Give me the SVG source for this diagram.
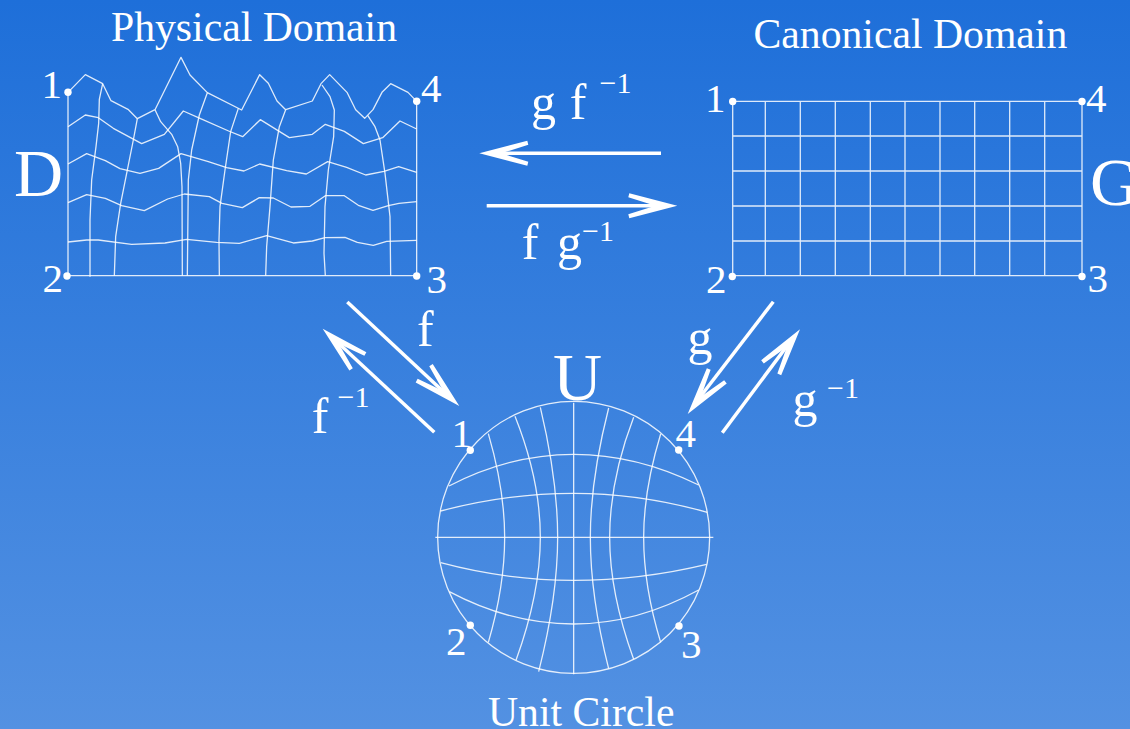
<svg xmlns="http://www.w3.org/2000/svg" width="1130" height="729" viewBox="0 0 1130 729">
<defs>
<linearGradient id="bg" x1="0" y1="0" x2="0" y2="1"><stop offset="0" stop-color="#1e6fd9"/><stop offset="1" stop-color="#5391e2"/></linearGradient>
<polygon id="head" points="0,0 -48,-12.5 -49,-8.5 -22,0 -49,8.5 -48,12.5" fill="#fff"/>
</defs>
<style>
text{font-family:"Liberation Serif","Times New Roman",serif;fill:#fff}
.t{font-size:41.7px}.n{font-size:41px}.b{font-size:68px}.m{font-size:50px}.s{font-size:30px}
.g{fill:none;stroke:#fff;stroke-width:1.3;stroke-opacity:.85;stroke-linejoin:round}
.z{fill:none;stroke:#fff;stroke-width:3.9;stroke-opacity:.85;stroke-linejoin:round}
.a{fill:none;stroke:#fff;stroke-width:3.5}
.d{fill:#fff}
</style>
<rect width="1130" height="729" fill="url(#bg)"/>
<g id="physical-domain">
<g transform="translate(0,40) scale(.33333)">
<path class="z" d="M204,157V707H1250V184"/>
<polyline class="z" points="204,157 256,104 308,131 333,182 384,208 412,236 465,209 543,52 570,105 622,158 725,210 779,104 805,130 831,183 857,209 937,183 963,131 989,104 1041,157 1067,209 1094,235 1119,209 1146,157 1172,131 1224,157 1250,184"/>
<polyline class="z" points="204,260 256,225 295,233 340,265 425,311 493,283 550,213 600,235 686,273 728,290 781,239 868,293 937,283 976,253 1033,274 1090,311 1148,293 1200,243 1250,267"/>
<polyline class="z" points="204,372 260,341 316,362 360,386 420,400 476,385 543,341 625,365 680,383 732,393 779,372 860,392 919,402 983,365 1040,382 1097,405 1152,394 1196,380 1250,397"/>
<polyline class="z" points="204,488 260,464 316,475 365,497 433,512 503,477 553,462 628,470 666,490 727,503 778,473 820,474 873,501 930,499 976,467 1033,467 1075,496 1119,511 1165,497 1197,490 1250,485"/>
<polyline class="z" points="204,606 260,600 295,600 395,613 495,609 560,598 650,607 718,610 800,587 880,609 937,603 975,593 1035,592 1072,607 1120,616 1160,604 1250,601"/>
<polyline class="z" points="308,131 298,178 296,250 288,320 275,420 270,540 270,710"/>
<polyline class="z" points="412,236 400,300 380,400 362,490 347,590 343,707"/>
<polyline class="z" points="465,209 482,245 515,283 533,320 542,370 546,440 547,707"/>
<polyline class="z" points="622,158 598,225 575,330 565,420 562,707"/>
<polyline class="z" points="715,205 692,275 675,390 660,500 657,600 658,707"/>
<polyline class="z" points="857,209 838,260 820,360 810,500 800,620 797,707"/>
<polyline class="z" points="966,135 990,170 1003,210 1001,290 985,390 975,500 972,640 976,707"/>
<polyline class="z" points="1103,226 1125,260 1140,300 1155,400 1170,530 1172,707"/>
</g>
<circle class="d" cx="68" cy="92.3" r="3.7"/><circle class="d" cx="67" cy="276" r="3.7"/><circle class="d" cx="416.7" cy="276" r="3.7"/><circle class="d" cx="416.7" cy="101.3" r="3.7"/>
<text class="t" x="111" y="40.5">Physical Domain</text>
<text class="b" x="14" y="196">D</text>
<text class="n" x="41.6" y="98">1</text><text class="n" x="42.5" y="292">2</text><text class="n" x="426.5" y="293">3</text><text class="n" x="421" y="102">4</text>
</g>
<g id="canonical-domain">
<path class="g" d="M732.7,101.3H1082V275.7H732.7ZM765.3,101.3V275.7M800.3,101.3V275.7M835.3,101.3V275.7M870.3,101.3V275.7M905,101.3V275.7M940,101.3V275.7M974.7,101.3V275.7M1009.7,101.3V275.7M1044.7,101.3V275.7M732.7,136H1082M732.7,171H1082M732.7,206H1082M732.7,241H1082"/>
<circle class="d" cx="732.7" cy="101.5" r="3.7"/><circle class="d" cx="732.3" cy="276.5" r="3.7"/><circle class="d" cx="1082" cy="276.5" r="3.7"/><circle class="d" cx="1082" cy="101.5" r="3.7"/>
<text class="t" x="753.5" y="47.5">Canonical Domain</text>
<text class="b" x="1090" y="205">G</text>
<text class="n" x="705" y="111.7">1</text><text class="n" x="706" y="293.3">2</text><text class="n" x="1087.5" y="291.7">3</text><text class="n" x="1086" y="111.7">4</text>
</g>
<g id="unit-circle">
<g transform="translate(420,390) scale(.33333)">
<circle class="z" cx="461" cy="442" r="408"/>
<path class="z" d="M46,442H880M461,38V853"/>
<path class="z" d="M87,288Q270,193 461,193Q650,193 836,285M62,363Q260,310 461,310Q660,310 862,367M62,518Q260,571 461,571Q660,571 860,523M88,605Q270,702 461,702Q650,702 836,600"/>
<path class="z" d="M205,131Q254,300 254,442Q254,590 205,757M285,79Q361,270 361,442Q361,610 288,811M361,52Q413,270 413,442Q413,620 356,845M566,54Q511,270 511,442Q511,620 566,836M641,82Q569,270 569,442Q569,610 641,808M722,132Q671,300 671,442Q671,590 722,757"/>
</g>
<circle class="d" cx="470.3" cy="450.3" r="3.7"/><circle class="d" cx="470.3" cy="625.3" r="3.7"/><circle class="d" cx="679" cy="626" r="3.7"/><circle class="d" cx="678.7" cy="450" r="3.7"/>
<text class="b" x="553" y="400">U</text>
<text class="t" x="488" y="725.5">Unit Circle</text>
<text class="n" x="451.6" y="446.7">1</text><text class="n" x="446" y="655">2</text><text class="n" x="681" y="657.7">3</text><text class="n" x="675.5" y="446.7">4</text>
</g>
<g id="connectors">
<path class="a" d="M661,153.3H495"/><use href="#head" transform="translate(479.3,153.3) rotate(180)"/>
<path class="a" d="M486.7,205.7H660"/><use href="#head" transform="translate(677.3,205.7)"/>
<path class="a" d="M347.3,302L447,395"/><use href="#head" transform="translate(459.3,406) rotate(43)"/>
<path class="a" d="M434.3,432.3L335,340"/><use href="#head" transform="translate(322.7,328.7) rotate(222.9)"/>
<path class="a" d="M773.3,301.7L697,401"/><use href="#head" transform="translate(687.7,414) rotate(127.3)"/>
<path class="a" d="M722.3,432.7L790,342"/><use href="#head" transform="translate(800,329.3) rotate(-53.1)"/>
</g>
<g id="connector-labels">
<text class="m" x="531" y="118.5">g</text><text class="m" x="569.7" y="118.5">f</text><text class="s" x="599.5" y="92.7">−1</text>
<text class="m" x="521.7" y="258.5">f</text><text class="m" x="557" y="258.5">g</text><text class="s" x="582" y="241">−1</text>
<text class="m" x="417" y="345.7">f</text>
<text class="m" x="311.7" y="432.7">f</text><text class="s" x="337.5" y="406.7">−1</text>
<text class="m" x="687.6" y="354">g</text>
<text class="m" x="792.6" y="416">g</text><text class="s" x="827" y="397.7">−1</text>
</g>
</svg>
